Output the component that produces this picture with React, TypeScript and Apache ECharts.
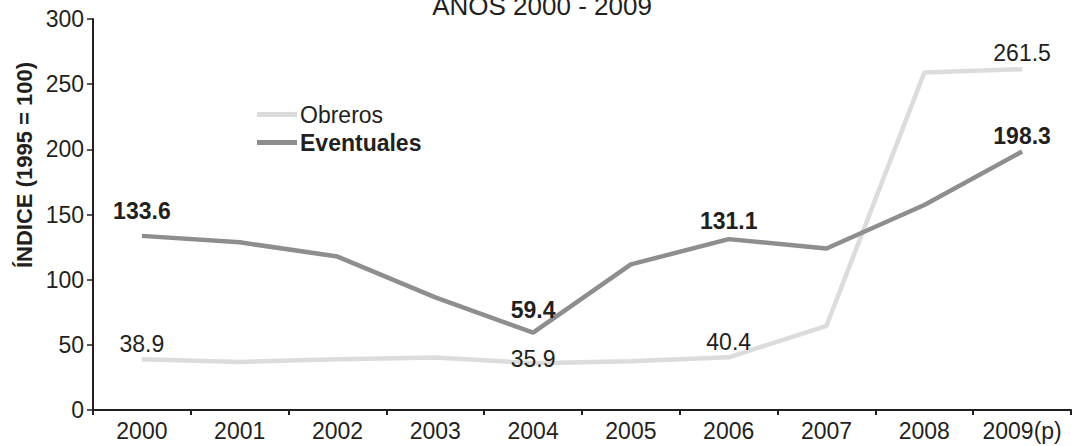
import React, { useEffect, useRef } from "react";
import * as echarts from "echarts";

const years = ["2000", "2001", "2002", "2003", "2004", "2005", "2006", "2007", "2008", "2009(p)"];
const obreros = [38.9, 36.9, 39.0, 40.3, 35.9, 37.4, 40.4, 64.6, 258.9, 261.5];
const eventuales = [133.6, 128.7, 117.7, 86.4, 59.4, 111.7, 131.1, 123.9, 157.3, 198.3];
const labeledIdx = [0, 4, 6, 9];
const yTicks = [0, 50, 100, 150, 200, 250, 300];
const title = "AÑOS 2000 - 2009";
const yName = "ÍNDICE (1995 = 100)";

const FONT = "Liberation Sans";
const TXT = "#231f20";

// label distance above the point, per labelled index (styling only)
const obrerosDist: Record<number, number> = { 0: 4, 4: -7, 6: 4, 9: 5 };
const eventualesDist: Record<number, number> = { 0: 13, 4: 11, 6: 7, 9: 4 };

export default function App() {
  const ref = useRef<HTMLDivElement>(null);
  useEffect(() => {
    const chart = echarts.init(ref.current!, null, { renderer: "svg" });
    const mk = (arr: number[], bold: boolean, dist: Record<number, number>) =>
      arr.map((v, i) =>
        labeledIdx.includes(i)
          ? {
              value: v,
              label: {
                show: true,
                position: "top",
                distance: dist[i],
                formatter: v.toFixed(1),
                fontSize: 23,
                fontWeight: bold ? "bold" : "normal",
                color: TXT,
                fontFamily: FONT,
              },
            }
          : v
      );
    chart.setOption({
      animation: false,
      textStyle: { fontFamily: FONT },
      grid: { left: 93, right: 2, top: 19, bottom: 36 },
      graphic: [
        {
          type: "text",
          x: 542,
          y: -7,
          style: {
            text: title,
            fontSize: 26,
            fontFamily: FONT,
            fill: TXT,
            textAlign: "center",
            textVerticalAlign: "top",
          },
        },
        {
          type: "text",
          x: 24,
          y: 165,
          rotation: Math.PI / 2,
          style: {
            text: yName,
            fontSize: 22,
            fontWeight: "bold",
            fontFamily: FONT,
            fill: TXT,
            textAlign: "center",
            textVerticalAlign: "middle",
          },
        },
      ],
      legend: {
        orient: "vertical",
        left: 257,
        top: 103,
        icon: "rect",
        itemWidth: 40,
        itemHeight: 5,
        itemGap: 5,
        padding: 0,
        data: ["Obreros", "Eventuales"],
        formatter: (n: string) => (n === "Eventuales" ? `{b|${n}}` : `{n|${n}}`),
        textStyle: {
          fontSize: 23,
          color: TXT,
          fontFamily: FONT,
          padding: [0, 0, 0, -2],
          rich: {
            b: { fontSize: 23, lineHeight: 23, fontWeight: "bold", color: TXT, fontFamily: FONT },
            n: { fontSize: 23, lineHeight: 23, color: TXT, fontFamily: FONT },
          },
        },
      },
      xAxis: {
        type: "category",
        data: years,
        boundaryGap: true,
        axisLine: { lineStyle: { color: TXT, width: 2 } },
        axisTick: { show: true, interval: 0, length: 5, lineStyle: { color: TXT, width: 2 } },
        axisLabel: { interval: 0, fontSize: 23, color: TXT, margin: 9, fontFamily: FONT },
      },
      yAxis: {
        type: "value",
        min: 0,
        max: 300,
        interval: 50,
        splitLine: { show: false },
        axisLine: { show: true, lineStyle: { color: TXT, width: 2 } },
        axisTick: { show: true, length: 6, lineStyle: { color: TXT, width: 1.5 } },
        axisLabel: {
          fontSize: 23,
          color: TXT,
          margin: 9,
          fontFamily: FONT,
          formatter: (v: number) => (yTicks.includes(v) ? String(v) : ""),
        },
      },
      series: [
        {
          name: "Obreros",
          type: "line",
          data: mk(obreros, false, obrerosDist),
          symbol: "circle",
          symbolSize: 0,
          showSymbol: true,
          lineStyle: { color: "#dcdcdc", width: 4.5 },
          itemStyle: { color: "#dcdcdc" },
          z: 2,
        },
        {
          name: "Eventuales",
          type: "line",
          data: mk(eventuales, true, eventualesDist),
          symbol: "circle",
          symbolSize: 0,
          showSymbol: true,
          lineStyle: { color: "#8e8e8e", width: 4.5 },
          itemStyle: { color: "#8e8e8e" },
          z: 3,
        },
      ],
    });
    return () => chart.dispose();
  }, []);
  return <div ref={ref} style={{ width: 1073, height: 446, position: "absolute", left: 0, top: 0 }} />;
}
